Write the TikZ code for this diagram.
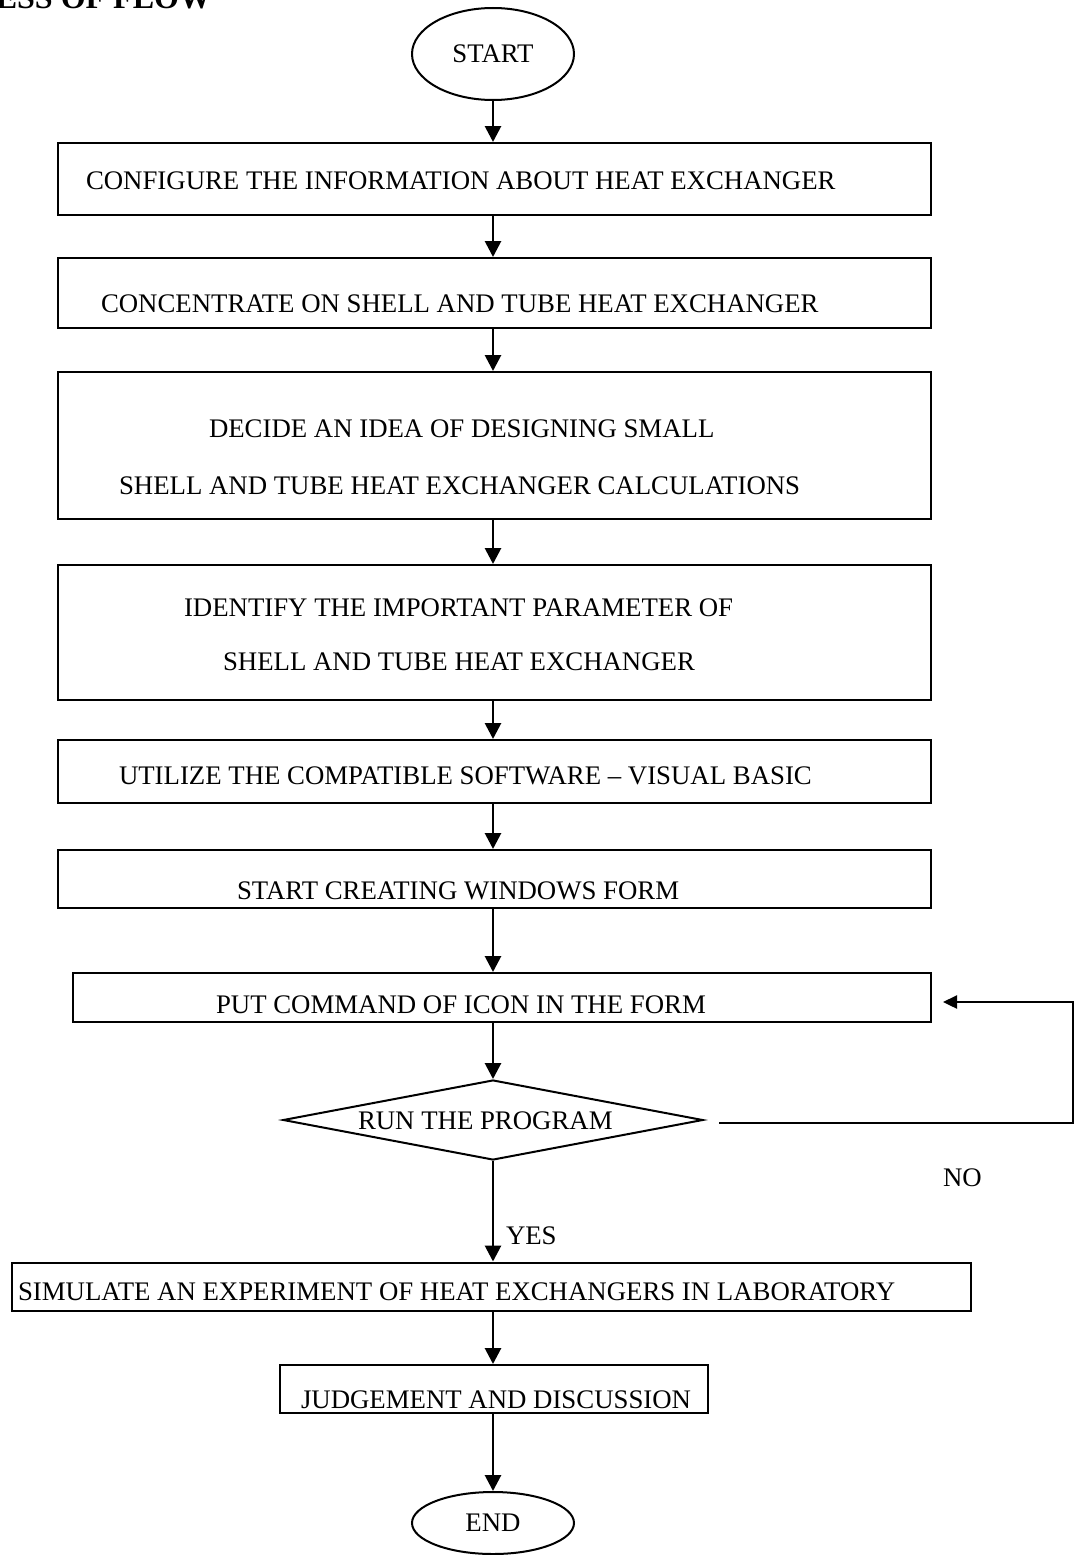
\documentclass[tikz,border=0pt]{standalone}
\usepackage{fontspec}
\setmainfont{Liberation Serif}
\usetikzlibrary{arrows.meta,shapes.geometric}
\begin{document}
\begin{tikzpicture}[x=1pt,y=-1pt,
  line width=2pt,
  every node/.style={font=\fontsize{26.8}{30}\selectfont},
  stepbox/.style={draw,rectangle,inner sep=0pt},
  term/.style={draw,ellipse,inner sep=0pt,minimum width=162pt},
  lbl/.style={anchor=west,inner sep=0pt},
  flow/.style={line width=2.8pt,-{Triangle[length=16pt,width=16pt]}},
  loopline/.style={line width=2.4pt,-{Triangle[length=14pt,width=13pt]}}
]
\useasboundingbox (0,0) rectangle (1074,1555);

% heading, cut by the page edge
\node[anchor=base east,inner sep=0pt,font=\fontsize{32}{36}\selectfont\bfseries] (head) at (212,9) {PROCESS OF FLOW};

% terminals
\node[term,minimum height=92pt] (start) at (493,54) {START};
\node[term,minimum height=62pt] (end) at (493,1523) {END};

% process boxes
\node[stepbox,minimum width=873pt,minimum height=72pt] (b1) at (494.5,179) {};
\node[lbl] (t1) at (85,181) {CONFIGURE THE INFORMATION ABOUT HEAT EXCHANGER};

\node[stepbox,minimum width=873pt,minimum height=70pt] (b2) at (494.5,293) {};
\node[lbl] (t2) at (100,304) {CONCENTRATE ON SHELL AND TUBE HEAT EXCHANGER};

\node[stepbox,minimum width=873pt,minimum height=147pt] (b3) at (494.5,445.5) {};
\node[lbl] (t3a) at (208,429) {DECIDE AN IDEA OF DESIGNING SMALL};
\node[lbl] (t3b) at (118,486) {SHELL AND TUBE HEAT EXCHANGER CALCULATIONS};

\node[stepbox,minimum width=873pt,minimum height=135pt] (b4) at (494.5,632.5) {};
\node[lbl] (t4a) at (183,608) {IDENTIFY THE IMPORTANT PARAMETER OF};
\node[lbl] (t4b) at (222,662) {SHELL AND TUBE HEAT EXCHANGER};

\node[stepbox,minimum width=873pt,minimum height=63pt] (b5) at (494.5,771.5) {};
\node[lbl] (t5) at (118,776) {UTILIZE THE COMPATIBLE SOFTWARE -- VISUAL BASIC};

\node[stepbox,minimum width=873pt,minimum height=58pt] (b6) at (494.5,879) {};
\node[lbl] (t6) at (236,891) {START CREATING WINDOWS FORM};

\node[stepbox,minimum width=858pt,minimum height=49pt] (b7) at (501.5,997.5) {};
\node[lbl] (t7) at (215,1005) {PUT COMMAND OF ICON IN THE FORM};

% decision
\node[draw,diamond,aspect=5.25,inner sep=0pt,minimum width=420pt,minimum height=80pt] (dec) at (493,1120) {};
\node[lbl] (td) at (357,1121) {RUN THE PROGRAM};

\node[stepbox,minimum width=959pt,minimum height=48pt] (b8) at (491.5,1286.5) {};
\node[lbl] (t8) at (17,1292) {SIMULATE AN EXPERIMENT OF HEAT EXCHANGERS IN LABORATORY};

\node[stepbox,minimum width=428pt,minimum height=48pt] (b9) at (494,1389) {};
\node[lbl] (t9) at (300,1400) {JUDGEMENT AND DISCUSSION};

% branch labels
\node[lbl] (yes) at (505,1236) {YES};
\node[lbl] (no) at (942,1178) {NO};

% loop-back corners
\coordinate (c1) at (1073,1123);
\coordinate (c2) at (1073,1002);
\coordinate (c3) at (943,1002);

% connectors, all on the centre line of the start terminal
\draw[flow] (start.south) -- (start.south |- b1.north);
\draw[flow] (start.south |- b1.south) -- (start.south |- b2.north);
\draw[flow] (start.south |- b2.south) -- (start.south |- b3.north);
\draw[flow] (start.south |- b3.south) -- (start.south |- b4.north);
\draw[flow] (start.south |- b4.south) -- (start.south |- b5.north);
\draw[flow] (start.south |- b5.south) -- (start.south |- b6.north);
\draw[flow] (start.south |- b6.south) -- (start.south |- b7.north);
\draw[flow] (dec.north |- b7.south) -- (dec.north);
\draw[flow] (dec.south) -- (dec.south |- b8.north);
\draw[flow] (dec.south |- b8.south) -- (dec.south |- b9.north);
\draw[flow] (end.north |- b9.south) -- (end.north);
\draw[loopline] ([xshift=15pt]dec.east |- c1) -- (c1) -- (c2) -- (c3);
\end{tikzpicture}
\end{document}
